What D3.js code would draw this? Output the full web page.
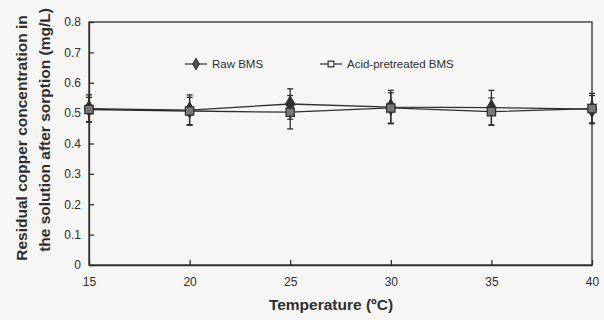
<!DOCTYPE html>
<html>
<head>
<meta charset="utf-8">
<script src="https://cdn.jsdelivr.net/npm/d3@7"></script>
<style>
  body { margin: 0; background: #f6f6f4; }
  svg { display: block; font-family: "Liberation Sans", Arial, sans-serif; }
</style>
</head>
<body>
<div id="chart"></div>
<script>
// data
const temps = [15, 20, 25, 30, 35, 40];
const rawBMS = [0.515, 0.51, 0.53, 0.52, 0.518, 0.513];
const rawErr = [0.045, 0.05, 0.05, 0.055, 0.057, 0.045];
const acidBMS = [0.512, 0.507, 0.503, 0.517, 0.505, 0.515];
const acidErr = [0.04, 0.045, 0.055, 0.05, 0.045, 0.05];
const yTicks = [0, 0.1, 0.2, 0.3, 0.4, 0.5, 0.6, 0.7, 0.8];
const xTicks = [15, 20, 25, 30, 35, 40];

const width = 604, height = 320;
const margin = { top: 22, right: 12, bottom: 55, left: 89 };
const ink = "#2e2e2e";

const svg = d3.select("#chart").append("svg")
    .attr("width", width)
    .attr("height", height);

const x = d3.scaleLinear().domain([15, 40]).range([margin.left, width - margin.right]);
const y = d3.scaleLinear().domain([0, 0.8]).range([height - margin.bottom, margin.top]);

// frame
svg.append("rect")
    .attr("x", x(15)).attr("y", y(0.8))
    .attr("width", x(40) - x(15)).attr("height", y(0) - y(0.8))
    .attr("fill", "none").attr("stroke", ink).attr("stroke-width", 1.3);

// axes with inward ticks
const xAxis = svg.append("g")
    .attr("transform", `translate(0,${y(0)})`)
    .call(d3.axisBottom(x).tickValues(xTicks).tickSizeInner(-5).tickSizeOuter(0).tickPadding(12));
const yAxis = svg.append("g")
    .attr("transform", `translate(${x(15)},0)`)
    .call(d3.axisLeft(y).tickValues(yTicks).tickSizeInner(-5).tickSizeOuter(0).tickPadding(8)
        .tickFormat(d => d === 0 ? "0" : d3.format(".1f")(d)));
[xAxis, yAxis].forEach(a => {
    a.select(".domain").attr("stroke", ink).attr("stroke-width", 1.3);
    a.selectAll(".tick line").attr("stroke", ink).attr("stroke-width", 1.3);
    a.selectAll(".tick text").attr("fill", ink).style("font-size", "12px");
});

// axis titles
svg.append("text")
    .attr("x", 331).attr("y", 310)
    .attr("text-anchor", "middle")
    .attr("fill", ink)
    .style("font-size", "15.5px").style("font-weight", "bold")
    .text("Temperature (ºC)");

const yTitle = svg.append("text")
    .attr("transform", "rotate(-90)")
    .attr("text-anchor", "middle")
    .attr("fill", ink)
    .style("font-size", "15.5px").style("font-weight", "bold");
yTitle.append("tspan").attr("x", -138).attr("y", 27).text("Residual copper concentration in");
yTitle.append("tspan").attr("x", -130).attr("y", 50).text("the solution after sorption (mg/L)");

// series
const series = [
    { name: "Raw BMS", values: rawBMS, err: rawErr, shape: d3.symbolDiamond, fill: "#333", lx: 185 },
    { name: "Acid-pretreated BMS", values: acidBMS, err: acidErr, shape: d3.symbolSquare, fill: "#777", lx: 320 }
];

const line = d3.line().x((d, i) => x(temps[i])).y(d => y(d));

series.forEach(s => {
    const g = svg.append("g");
    g.append("path")
        .attr("d", line(s.values))
        .attr("fill", "none").attr("stroke", ink).attr("stroke-width", 1.3);

    temps.forEach((t, i) => {
        const cx = x(t), lo = y(s.values[i] - s.err[i]), hi = y(s.values[i] + s.err[i]);
        g.append("line").attr("x1", cx).attr("x2", cx).attr("y1", lo).attr("y2", hi)
            .attr("stroke", ink).attr("stroke-width", 1.3);
        [lo, hi].forEach(v => g.append("line")
            .attr("x1", cx - 3).attr("x2", cx + 3).attr("y1", v).attr("y2", v)
            .attr("stroke", ink).attr("stroke-width", 1.3));
    });

    g.selectAll("path.pt").data(s.values).enter().append("path")
        .attr("class", "pt")
        .attr("transform", (d, i) => `translate(${x(temps[i])},${y(d)})`)
        .attr("d", d3.symbol().type(s.shape).size(70))
        .attr("fill", s.fill).attr("stroke", ink).attr("stroke-width", 1.2);

    // legend entry
    const ly = 64;
    svg.append("line").attr("x1", s.lx).attr("x2", s.lx + 22).attr("y1", ly).attr("y2", ly)
        .attr("stroke", ink).attr("stroke-width", 1.2);
    svg.append("path")
        .attr("transform", `translate(${s.lx + 11},${ly})`)
        .attr("d", d3.symbol().type(s.shape).size(34))
        .attr("fill", s.name === "Raw BMS" ? "#555" : "#eee")
        .attr("stroke", ink).attr("stroke-width", 1.1);
    svg.append("text")
        .attr("x", s.lx + 27).attr("y", ly + 4)
        .attr("fill", ink)
        .style("font-size", "11.5px")
        .text(s.name);
});
</script>
</body>
</html>
